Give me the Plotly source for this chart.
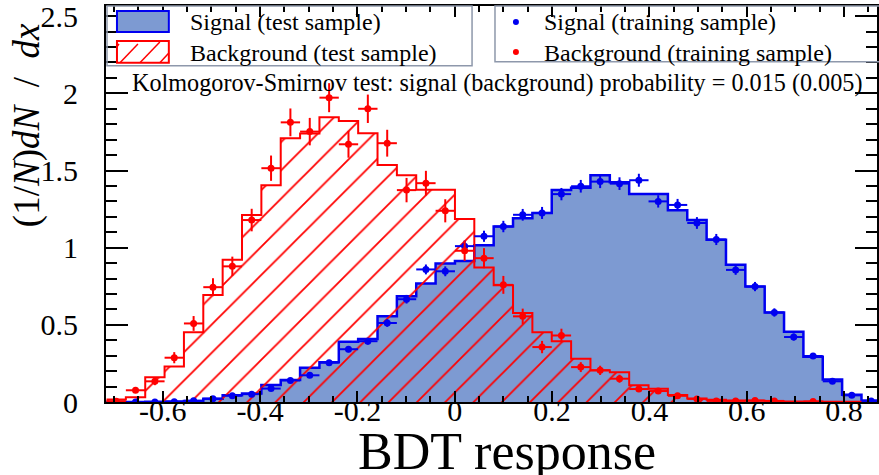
import numpy as np
import plotly.graph_objects as go

# ---------------- data ----------------
X_MIN, X_MAX = -0.7157, 0.8755      # histogram range
N_BINS = 40

sig_test = [0.0, 0.0, 0.002, 0.003, 0.006, 0.021, 0.043, 0.055, 0.11, 0.143,
            0.222, 0.257, 0.39, 0.408, 0.555, 0.685, 0.768, 0.897, 0.914, 1.016,
            1.137, 1.19, 1.225, 1.374, 1.388, 1.47, 1.424, 1.347, 1.348, 1.243,
            1.179, 1.052, 0.89, 0.748, 0.58, 0.456, 0.294, 0.145, 0.047, 0.009]

bkg_test = [0.017, 0.03, 0.16, 0.23, 0.452, 0.694, 0.921, 1.211, 1.405, 1.709,
            1.74, 1.845, 1.821, 1.741, 1.535, 1.47, 1.375, 1.375, 1.185, 0.871,
            0.757, 0.576, 0.452, 0.394, 0.28, 0.205, 0.192, 0.108, 0.086, 0.045,
            0.022, 0.015, 0.01, 0.008, 0.005, 0.004, 0.003, 0.002, 0.001, 0.001]

sig_train = [0.0, 0.0, 0.0, 0.001, 0.008, 0.021, 0.041, 0.051, 0.087, 0.14,
             0.173, 0.255, 0.342, 0.394, 0.512, 0.666, 0.859, 0.847, 1.01, 1.074,
             1.137, 1.213, 1.225, 1.347, 1.398, 1.428, 1.415, 1.437, 1.3, 1.277,
             1.16, 1.053, 0.856, 0.748, 0.58, 0.421, 0.298, 0.134, 0.043, 0.006]
sig_train_err = [0.0, 0.0, 0.0, 0.001, 0.003, 0.005, 0.007, 0.008, 0.01, 0.013,
                 0.015, 0.018, 0.02, 0.022, 0.025, 0.028, 0.032, 0.032, 0.035, 0.036,
                 0.037, 0.038, 0.039, 0.04, 0.041, 0.042, 0.041, 0.042, 0.04, 0.039,
                 0.038, 0.036, 0.032, 0.03, 0.027, 0.023, 0.019, 0.013, 0.007, 0.003]

bkg_train = [0.005, 0.076, 0.134, 0.287, 0.509, 0.744, 0.879, 1.179, 1.515, 1.812,
             1.752, 1.972, 1.67, 1.9, 1.677, 1.373, 1.418, 1.239, 0.98, 0.932,
             0.759, 0.555, 0.356, 0.431, 0.226, 0.205, 0.151, 0.084, 0.071, 0.04,
             0.02, 0.007, 0.007, 0.01, 0.007, None, 0.003, None, None, None]
bkg_train_err = [0.005, 0.018, 0.025, 0.036, 0.048, 0.058, 0.063, 0.073, 0.082, 0.09,
                 0.089, 0.094, 0.087, 0.092, 0.087, 0.079, 0.08, 0.075, 0.066, 0.065,
                 0.058, 0.05, 0.04, 0.044, 0.032, 0.03, 0.026, 0.019, 0.018, 0.013,
                 0.009, 0.006, 0.006, 0.007, 0.006, 0.0, 0.004, 0.0, 0.0, 0.0]

x_tick_vals = [-0.6, -0.4, -0.2, 0, 0.2, 0.4, 0.6, 0.8]
x_tick_text = ["-0.6", "-0.4", "-0.2", "0", "0.2", "0.4", "0.6", "0.8"]
y_tick_vals = [0, 0.5, 1, 1.5, 2, 2.5]
y_tick_text = ["0", "0.5", "1", "1.5", "2", "2.5"]

legend_labels = ["Signal (test sample)", "Background (test sample)",
                 "Signal (training sample)", "Background (training sample)"]
ks_text = "Kolmogorov-Smirnov test: signal (background) probability = 0.015 (0.005)"
x_title = "BDT response"
y_title = "(1/<i>N</i>)<i>dN</i>&nbsp;&nbsp;/&nbsp;&nbsp;<i>dx</i>"

# ---------------- derived ----------------
edges = np.linspace(X_MIN, X_MAX, N_BINS + 1)
centers = 0.5 * (edges[:-1] + edges[1:])
half_w = (X_MAX - X_MIN) / N_BINS / 2

SIG_FILL = "#7d9ad2"
BLUE = "#0000f0"
RED = "#ff0000"
FONT = "Liberation Serif, Times New Roman, DejaVu Serif, serif"

W, H = 879, 475
ML, MR, MT, MB = 106, 0, 5, 73
PX_PER_UNIT = 487.9
x_axis_range = [X_MIN - 0.5 / PX_PER_UNIT, X_MIN - 0.5 / PX_PER_UNIT + (W - ML - MR) / PX_PER_UNIT]
y_axis_range = [0, 2.566]


def px(x):
    return (x - ML) / (W - ML - MR)


def py(y):
    return (H - MB - y) / (H - MT - MB)


fig = go.Figure()

# signal test histogram (filled)
fig.add_trace(go.Scatter(
    x=edges, y=list(sig_test) + [sig_test[-1]], mode="lines", line_shape="hv",
    line=dict(color=BLUE, width=2.5), fill="tozeroy", fillcolor=SIG_FILL,
    showlegend=False, hoverinfo="skip"))

# background test histogram (hatched)
fig.add_trace(go.Scatter(
    x=edges, y=list(bkg_test) + [bkg_test[-1]], mode="lines", line_shape="hv",
    line=dict(color=RED, width=2), fill="tozeroy", fillcolor="rgba(0,0,0,0)",
    fillpattern=dict(shape="/", fgcolor=RED, bgcolor="rgba(0,0,0,0)", fgopacity=1,
                     size=20, solidity=0.09, fillmode="overlay"),
    showlegend=False, hoverinfo="skip"))

# training samples (points with errors)
fig.add_trace(go.Scatter(
    x=centers, y=sig_train, mode="markers",
    marker=dict(color=BLUE, size=7),
    error_y=dict(type="data", array=sig_train_err, color=BLUE, thickness=2, width=0),
    error_x=dict(type="constant", value=half_w, color=BLUE, thickness=2, width=0),
    showlegend=False))
fig.add_trace(go.Scatter(
    x=centers, y=bkg_train, mode="markers",
    marker=dict(color=RED, size=7),
    error_y=dict(type="data", array=bkg_train_err, color=RED, thickness=2, width=0),
    error_x=dict(type="constant", value=half_w, color=RED, thickness=2, width=0),
    showlegend=False))

# ---------------- legend (drawn) ----------------
BOX = "#8e98ab"
shapes = [
    dict(type="rect", xref="paper", yref="paper", x0=px(107), x1=px(473), y0=py(65), y1=py(5),
         line=dict(color=BOX, width=1.5), fillcolor="rgba(0,0,0,0)", layer="above"),
    dict(type="rect", xref="paper", yref="paper", x0=px(496), x1=px(890), y0=py(61), y1=py(5),
         line=dict(color=BOX, width=1.5), fillcolor="rgba(0,0,0,0)", layer="above"),
    dict(type="rect", xref="paper", yref="paper", x0=px(117), x1=px(169), y0=py(31), y1=py(10),
         line=dict(color=BLUE, width=2), fillcolor=SIG_FILL, layer="above"),
    dict(type="rect", xref="paper", yref="paper", x0=px(117), x1=px(169), y0=py(62), y1=py(40),
         line=dict(color=RED, width=2), fillcolor="white", layer="above"),
    dict(type="circle", xref="paper", yref="paper", x0=px(514), x1=px(520), y0=py(24), y1=py(18),
         line=dict(color=BLUE, width=0), fillcolor=BLUE, layer="above"),
    dict(type="circle", xref="paper", yref="paper", x0=px(514), x1=px(520), y0=py(54), y1=py(48),
         line=dict(color=RED, width=0), fillcolor=RED, layer="above"),
]
for x0, x1, y0, y1 in [(120, 138, 62, 43), (140, 160, 62, 41), (160, 169, 62, 52), (117, 119, 46, 43)]:
    shapes.append(dict(type="line", xref="paper", yref="paper", x0=px(x0), x1=px(x1),
                       y0=py(y0), y1=py(y1), line=dict(color=RED, width=1.5), layer="above"))

annotations = [
    dict(text=legend_labels[0], x=px(188), y=py(21), xanchor="left", yanchor="middle"),
    dict(text=legend_labels[1], x=px(188), y=py(52), xanchor="left", yanchor="middle"),
    dict(text=legend_labels[2], x=px(543), y=py(21), xanchor="left", yanchor="middle"),
    dict(text=legend_labels[3], x=px(543), y=py(52), xanchor="left", yanchor="middle"),
    dict(text=ks_text, x=px(130), y=py(82), xanchor="left", yanchor="middle",
         font=dict(size=24.2, family=FONT, color="black")),
    dict(text=x_title, x=px(508), y=py(452), xanchor="center", yanchor="middle",
         font=dict(size=52, family=FONT, color="black")),
    dict(text=y_title, x=px(27), y=py(20), xanchor="center", yanchor="top", textangle=-90,
         font=dict(size=37, family=FONT, color="black")),
]
for a in annotations:
    a.update(xref="paper", yref="paper", showarrow=False)
    a.setdefault("font", dict(size=24, family=FONT, color="black"))

fig.update_layout(
    width=W, height=H, margin=dict(l=ML, r=MR, t=MT, b=MB),
    paper_bgcolor="white", plot_bgcolor="white",
    font=dict(family=FONT, color="black"),
    shapes=shapes, annotations=annotations, showlegend=False,
    xaxis=dict(range=x_axis_range, showgrid=False, zeroline=False,
               showline=True, linecolor="black", linewidth=2, mirror="ticks",
               ticks="inside", ticklen=11, tickwidth=1.5, tickcolor="black",
               tickvals=x_tick_vals, ticktext=x_tick_text, ticklabelstandoff=-19,
               ticklabeloverflow="allow",
               tickfont=dict(size=30, family=FONT, color="black"),
               minor=dict(tickmode="linear", tick0=0, dtick=0.05, ticks="inside",
                          ticklen=6, tickwidth=1.5, tickcolor="black")),
    yaxis=dict(range=y_axis_range, showgrid=False, zeroline=False,
               showline=True, linecolor="black", linewidth=2, mirror="ticks",
               ticks="inside", ticklen=22, tickwidth=1.5, tickcolor="black",
               tickvals=y_tick_vals, ticktext=y_tick_text, ticklabelstandoff=20,
               ticklabeloverflow="allow",
               tickfont=dict(size=30, family=FONT, color="black"),
               minor=dict(tickmode="linear", tick0=0, dtick=0.1, ticks="inside",
                          ticklen=11, tickwidth=1.5, tickcolor="black")),
)

fig.write_html("out.html")
